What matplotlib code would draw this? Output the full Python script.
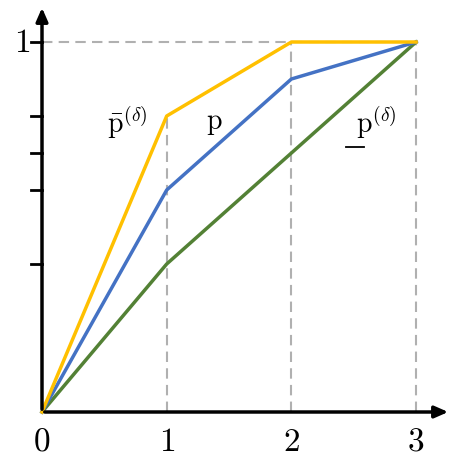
import matplotlib
matplotlib.use("Agg")
import matplotlib.pyplot as plt

plt.rcParams['mathtext.fontset'] = 'cm'

x = [0, 1, 2, 3]
upper = [0, 0.8, 1, 1]
mid = [0, 0.6, 0.9, 1]
lower = [0, 0.4, 0.7, 1]
yticks = [0.4, 0.6, 0.7, 0.8, 1.0]
xticklabels = ['0', '1', '2', '3']

W = 457
fig = plt.figure(figsize=(4.57, 4.57), dpi=100)
sx, sy = 124.7, 370.0
x0, y0 = 42, 412
xl, xr = -0.3, 3.3
yb, yt = -0.1, 1.1
left = (x0 + xl*sx)/W; right = (x0 + xr*sx)/W
bottom = (W - (y0 - yb*sy))/W; top = (W - (y0 - yt*sy))/W
ax = fig.add_axes([left, bottom, right-left, top-bottom])
ax.set_xlim(xl, xr); ax.set_ylim(yb, yt)
ax.axis('off')

dash = dict(color='#b0b0b0', lw=1.5, ls=(0, (5, 3)))
ax.plot([0, 3], [1, 1], **dash)
ax.plot([1, 1], [0, upper[1]], **dash)
ax.plot([2, 2], [0, 1], **dash)
ax.plot([3, 3], [0, 1], **dash)

ax.plot(x, lower, color='#538135', lw=2.5)
ax.plot(x, mid, color='#4472c4', lw=2.5)
ax.plot(x, upper, color='#ffc000', lw=2.5)

ax.annotate('', xy=(3.28, 0), xytext=(0, 0),
            arrowprops=dict(arrowstyle='-|>,head_length=0.8,head_width=0.35', color='black', lw=2.5))
ax.annotate('', xy=(0, 1.1), xytext=(0, 0),
            arrowprops=dict(arrowstyle='-|>,head_length=0.8,head_width=0.35', color='black', lw=2.5))
for yv in yticks:
    ax.plot([-0.09, 0], [yv, yv], color='black', lw=2)
for xv, lab in zip(x, xticklabels):
    ax.text(xv, -0.035, '$' + lab + '$', ha='center', va='top', fontsize=24)
ax.text(-0.16, 1.0, r'$1$', ha='center', va='center', fontsize=24)
ax.text(0.68, 0.78, r'$\bar{\mathrm{p}}^{(\delta)}$', ha='center', va='center', fontsize=20)
ax.text(1.38, 0.78, r'$\mathrm{p}$', ha='center', va='center', fontsize=20)
ax.text(2.68, 0.78, r'$\mathrm{p}^{(\delta)}$', ha='center', va='center', fontsize=20)
ax.plot([2.44, 2.58], [0.715, 0.715], color='black', lw=1.3)

fig.savefig('out.png', dpi=100)
